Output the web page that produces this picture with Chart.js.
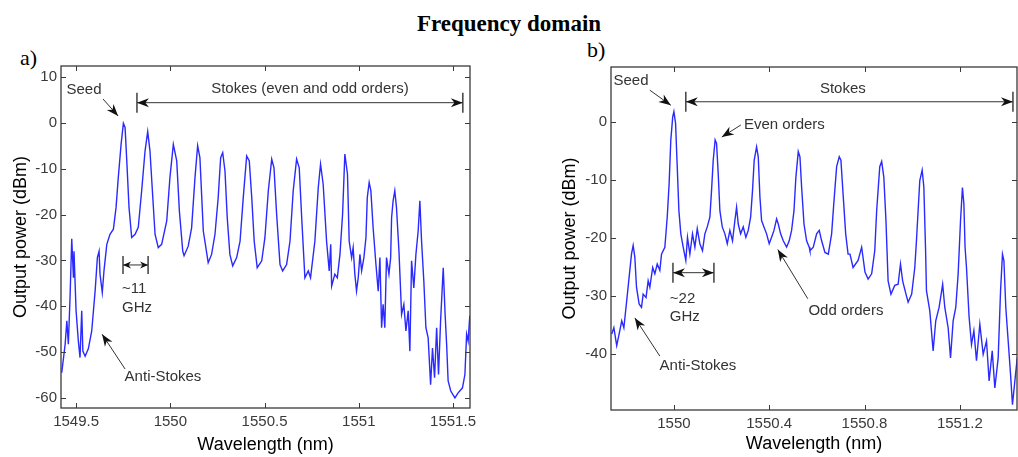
<!DOCTYPE html>
<html>
<head>
<meta charset="utf-8">
<script src="https://cdn.jsdelivr.net/npm/chart.js@4.4.1/dist/chart.umd.min.js"></script>
<style>
  body { margin: 0; width: 1018px; height: 457px; background: #fff; position: relative; overflow: hidden; }
  #title { position: absolute; left: 0; top: 11px; width: 1018px; text-align: center; font: bold 23px "Liberation Serif", serif; color: #000; }
  .lbl { position: absolute; font: 22px "Liberation Serif", serif; color: #000; }
  .panel { position: absolute; top: 0; height: 457px; }
</style>
</head>
<body>
<div id="title">Frequency domain</div>
<div class="lbl" style="left:20px;top:45px">a)</div>
<div class="lbl" style="left:587px;top:37px">b)</div>
<div class="panel" style="left:0;width:490px"><canvas id="chartA"></canvas></div>
<div class="panel" style="left:530px;width:488px"><canvas id="chartB"></canvas></div>

<script>
// panel a) spectrum
const aWl = [1549.424,1549.442,1549.451,1549.459,1549.468,1549.477,1549.486,1549.489,1549.500,1549.512,
  1549.521,1549.530,1549.536,1549.548,1549.565,1549.583,1549.601,1549.613,1549.622,1549.627,
  1549.639,1549.648,1549.663,1549.680,1549.698,1549.712,1549.724,1549.739,1549.751,1549.760,
  1549.769,1549.781,1549.795,1549.813,1549.830,1549.848,1549.866,1549.880,1549.892,1549.907,
  1549.919,1549.936,1549.954,1549.981,1549.998,1550.016,1550.034,1550.048,1550.066,1550.073,
  1550.095,1550.113,1550.131,1550.145,1550.157,1550.175,1550.201,1550.219,1550.237,1550.254,
  1550.267,1550.278,1550.290,1550.302,1550.316,1550.331,1550.352,1550.370,1550.387,1550.405,
  1550.419,1550.432,1550.445,1550.461,1550.485,1550.502,1550.520,1550.538,1550.550,1550.564,
  1550.582,1550.596,1550.617,1550.635,1550.652,1550.670,1550.684,1550.697,1550.714,1550.732,
  1550.744,1550.767,1550.785,1550.797,1550.811,1550.829,1550.843,1550.851,1550.856,1550.873,
  1550.886,1550.900,1550.914,1550.926,1550.940,1550.949,1550.962,1550.970,1550.979,1550.988,
  1550.997,1551.006,1551.015,1551.027,1551.038,1551.045,1551.055,1551.064,1551.076,1551.091,
  1551.103,1551.112,1551.121,1551.129,1551.138,1551.147,1551.160,1551.169,1551.174,1551.182,
  1551.191,1551.200,1551.213,1551.227,1551.239,1551.250,1551.262,1551.271,1551.280,1551.292,
  1551.303,1551.315,1551.324,1551.333,1551.345,1551.356,1551.368,1551.381,1551.391,1551.402,
  1551.413,1551.423,1551.434,1551.448,1551.458,1551.466,1551.474,1551.488,1551.510,1551.527,
  1551.550,1551.563,1551.572,1551.580,1551.589];
const aDbm = [-54.5,-48.3,-43.2,-48.3,-38.1,-25.3,-33.8,-28,-41,-47.6,
  -51.2,-41,-49.8,-50.9,-49.3,-45.4,-36.7,-29.4,-28,-33,
  -37,-32.3,-26.5,-24.3,-23.2,-18.5,-11.9,-4.6,-0.1,-1,
  -8.3,-18.5,-25,-24.3,-22.8,-14.8,-6.1,-1.9,-6.1,-16.3,
  -24.3,-27.2,-26.5,-21.4,-11.9,-4.7,-8.3,-19.2,-28,-29,
  -26.9,-22.9,-11.9,-5,-7.6,-23.6,-30.5,-28.7,-24.3,-16.3,
  -7.6,-6.5,-10.5,-20.7,-28.7,-31.2,-29.4,-25.8,-16.3,-7.2,
  -8.3,-16.3,-25.8,-31.6,-30.1,-25,-14.8,-7.9,-9.8,-19.9,
  -30.9,-32.3,-30.9,-25.8,-14.8,-7.9,-9.8,-20.7,-33.8,-32.3,
  -33.8,-25.8,-14.1,-9,-13.4,-25.8,-32.3,-26.5,-35.6,-33,
  -33.8,-28.7,-19.9,-6.8,-11.2,-25.8,-29.4,-27.2,-33,-36.7,
  -33.8,-28.7,-32.3,-29.4,-25,-16.3,-13,-14.8,-22.9,-30.9,
  -36.7,-29.4,-44.7,-39.6,-44.7,-29.4,-33,-29.4,-20.7,-17,
  -14.8,-18.5,-27.9,-41.8,-39.6,-45.4,-41,-49.8,-30.1,-36,
  -28.7,-23.6,-17,-25.8,-34.5,-44.7,-46.9,-57.1,-49.1,-55.6,
  -44.7,-54.9,-43.2,-31.6,-41.8,-48.3,-56.3,-58.5,-60,-58.9,
  -57.8,-54.9,-46.1,-47.6,-42.1];
const aXTicks = [1549.5, 1550, 1550.5, 1551, 1551.5];
const aYTicks = [-60, -50, -40, -30, -20, -10, 0, 10];

// panel b) spectrum
const bWl = [1549.739,1549.748,1549.760,1549.770,1549.781,1549.790,1549.802,1549.812,1549.822,1549.829,
  1549.836,1549.843,1549.854,1549.864,1549.871,1549.883,1549.892,1549.899,1549.911,1549.920,
  1549.930,1549.941,1549.948,1549.962,1549.972,1549.980,1549.987,1549.995,1550.000,1550.007,
  1550.014,1550.021,1550.029,1550.039,1550.050,1550.057,1550.067,1550.078,1550.088,1550.098,
  1550.109,1550.120,1550.130,1550.140,1550.151,1550.158,1550.165,1550.173,1550.179,1550.186,
  1550.193,1550.203,1550.214,1550.224,1550.235,1550.246,1550.256,1550.263,1550.270,1550.280,
  1550.291,1550.302,1550.312,1550.322,1550.330,1550.337,1550.347,1550.354,1550.361,1550.368,
  1550.378,1550.389,1550.400,1550.410,1550.420,1550.431,1550.438,1550.448,1550.459,1550.473,
  1550.484,1550.494,1550.504,1550.512,1550.522,1550.529,1550.536,1550.546,1550.557,1550.568,
  1550.571,1550.585,1550.599,1550.610,1550.620,1550.634,1550.648,1550.662,1550.671,1550.683,
  1550.694,1550.701,1550.710,1550.721,1550.731,1550.739,1550.752,1550.773,1550.788,1550.802,
  1550.815,1550.830,1550.843,1550.851,1550.864,1550.872,1550.881,1550.890,1550.899,1550.911,
  1550.927,1550.941,1550.951,1550.960,1550.974,1550.983,1550.998,1551.011,1551.018,1551.032,
  1551.042,1551.049,1551.056,1551.060,1551.074,1551.088,1551.099,1551.113,1551.128,1551.137,
  1551.151,1551.161,1551.172,1551.183,1551.193,1551.203,1551.211,1551.217,1551.222,1551.228,
  1551.239,1551.249,1551.259,1551.270,1551.284,1551.298,1551.312,1551.323,1551.336,1551.347,
  1551.361,1551.371,1551.379,1551.385,1551.393,1551.403,1551.413,1551.421,1551.431,1551.441];
const bDbm = [-36.6,-35.5,-38.6,-36.6,-34.3,-35.5,-30.8,-26.8,-22.8,-21.3,
  -23.3,-28.5,-31.4,-32,-29.7,-30.3,-27.4,-28.5,-25.1,-26.2,
  -24.5,-25.6,-22.8,-21.6,-16.4,-10.6,-3.1,0.9,1.8,-0.2,
  -7.7,-15.3,-19.3,-21.6,-23.9,-19.9,-22.8,-19.3,-21.6,-18.4,
  -21,-22.2,-19.3,-18.1,-16.4,-11.8,-6.6,-3.1,-3.7,-8.9,
  -15.3,-18.1,-19.3,-21,-18.7,-20.5,-17,-14.7,-17.6,-19.3,
  -18.1,-19.9,-18.7,-16.4,-11.8,-6.6,-4.3,-6,-12.9,-17,
  -18.1,-19.3,-21,-19.9,-18.7,-16.7,-17.6,-19.3,-20.5,-21.6,
  -20.5,-18.7,-15.3,-9.5,-5.1,-6,-11.2,-17.6,-20.5,-21.6,
  -22.2,-21.6,-19.3,-18.7,-20.5,-22.5,-22.8,-19.3,-14.1,-7.7,
  -6,-6.6,-12.4,-19.3,-22.8,-22.8,-25.1,-23.9,-21.6,-25.9,
  -27.1,-26.2,-22.2,-15.3,-7.7,-6.8,-9.5,-17,-27.4,-29.7,
  -28.2,-28,-24.5,-27.4,-29.7,-31.1,-29.7,-25.1,-20.5,-10.1,
  -8.3,-11.2,-21.6,-29.1,-32.6,-39.5,-34.3,-32,-28,-32,
  -35.5,-40.7,-34.3,-32,-26.2,-17,-11.3,-14.1,-21.6,-25.1,
  -33.7,-38.4,-36,-41.2,-34.9,-40.1,-37.8,-44.7,-39.5,-45.9,
  -40.7,-29.1,-22.8,-23.9,-32,-37.8,-43.6,-48.8,-44.7,-40.7];
const bXTicks = [1550, 1550.4, 1550.8, 1551.2];
const bYTicks = [-40, -30, -20, -10, 0];

// annotations, in data units
const aNotes = [
  { text: 'Seed', x: 1549.542, y: 7.2 },
  { text: 'Stokes (even and odd orders)', x: 1550.741, y: 7.4 },
  { text: '~11', x: 1549.744, y: -36.2, align: 'left' },
  { text: 'GHz', x: 1549.744, y: -40.4, align: 'left' },
  { text: 'Anti-Stokes', x: 1549.961, y: -55.5 }
];
const aArrows = [
  { from: [1549.643, 5.2], to: [1549.723, 1.5] },
  { from: [1549.823, 4.4], to: [1551.552, 4.4], both: true },
  { from: [1549.749, -31.0], to: [1549.882, -31.0], both: true, small: true },
  { from: [1549.760, -53.7], to: [1549.638, -46.1] }
];
const bNotes = [
  { text: 'Seed', x: 1549.820, y: 7.1 },
  { text: 'Stokes', x: 1550.709, y: 5.7 },
  { text: 'Even orders', x: 1550.294, y: -0.5, align: 'left' },
  { text: '~22', x: 1549.983, y: -30.5, align: 'left' },
  { text: 'GHz', x: 1549.983, y: -33.6, align: 'left' },
  { text: 'Anti-Stokes', x: 1550.101, y: -42.1 },
  { text: 'Odd orders', x: 1550.722, y: -32.6 }
];
const bArrows = [
  { from: [1549.899, 5.5], to: [1549.987, 2.9] },
  { from: [1550.050, 3.5], to: [1551.423, 3.5], both: true },
  { from: [1550.281, -0.5], to: [1550.201, -2.6] },
  { from: [1549.996, -26.0], to: [1550.168, -26.0], both: true },
  { from: [1549.941, -40.4], to: [1549.836, -33.8] },
  { from: [1550.562, -30.5], to: [1550.436, -22.0] }
];

Chart.defaults.font.family = '"Liberation Sans", Arial, sans-serif';

function arrowHead(ctx, x0, y0, x1, y1, len, w) {
  const ang = Math.atan2(y1 - y0, x1 - x0);
  ctx.save();
  ctx.translate(x1, y1);
  ctx.rotate(ang);
  ctx.beginPath();
  ctx.moveTo(0, 0);
  ctx.lineTo(-len, -w / 2);
  ctx.lineTo(-len * 0.7, 0);
  ctx.lineTo(-len, w / 2);
  ctx.closePath();
  ctx.fill();
  ctx.restore();
}

// frame, inward ticks (matlab look), arrows and labels
const marks = {
  id: 'marks',
  afterDraw(chart, args, opts) {
    const { ctx, chartArea: a, scales: { x, y } } = chart;
    ctx.save();
    ctx.strokeStyle = '#3a3a3a';
    ctx.lineWidth = 1.3;
    ctx.strokeRect(a.left, a.top, a.right - a.left, a.bottom - a.top);
    ctx.lineWidth = 1;
    ctx.beginPath();
    x.ticks.forEach(t => {
      const p = Math.round(x.getPixelForValue(t.value)) + 0.5;
      ctx.moveTo(p, a.bottom); ctx.lineTo(p, a.bottom - 5);
      ctx.moveTo(p, a.top); ctx.lineTo(p, a.top + 5);
    });
    y.ticks.forEach(t => {
      const p = Math.round(y.getPixelForValue(t.value)) + 0.5;
      ctx.moveTo(a.left, p); ctx.lineTo(a.left + 5, p);
      ctx.moveTo(a.right, p); ctx.lineTo(a.right - 5, p);
    });
    ctx.stroke();

    ctx.strokeStyle = '#333';
    ctx.fillStyle = '#111';
    ctx.lineWidth = 1;
    (opts.arrows || []).forEach(ar => {
      const x0 = x.getPixelForValue(ar.from[0]), y0 = y.getPixelForValue(ar.from[1]);
      const x1 = x.getPixelForValue(ar.to[0]), y1 = y.getPixelForValue(ar.to[1]);
      ctx.beginPath();
      ctx.moveTo(x0, y0); ctx.lineTo(x1, y1);
      ctx.stroke();
      const len = ar.small ? 8 : 12, w = ar.small ? 7 : 9;
      arrowHead(ctx, x0, y0, x1, y1, len, w);
      if (ar.both) {
        arrowHead(ctx, x1, y1, x0, y0, len, w);
        const h = ar.small ? 9 : 10;
        ctx.lineWidth = 1.4;
        ctx.beginPath();
        ctx.moveTo(x0, y0 - h); ctx.lineTo(x0, y0 + h);
        ctx.moveTo(x1, y1 - h); ctx.lineTo(x1, y1 + h);
        ctx.stroke();
        ctx.lineWidth = 1;
      }
    });

    ctx.font = '15px "Liberation Sans", Arial, sans-serif';
    ctx.fillStyle = '#333';
    ctx.textBaseline = 'middle';
    (opts.notes || []).forEach(n => {
      ctx.textAlign = n.align || 'center';
      ctx.fillText(n.text, x.getPixelForValue(n.x), y.getPixelForValue(n.y));
    });
    ctx.restore();
  }
};

function makeChart(id, wl, dbm, o) {
  return new Chart(document.getElementById(id), {
    type: 'line',
    data: {
      datasets: [{
        data: wl.map((v, i) => ({ x: v, y: dbm[i] })),
        borderColor: '#2a2aff',
        borderWidth: 1.4,
        pointRadius: 0,
        tension: 0
      }]
    },
    options: {
      responsive: true,
      maintainAspectRatio: false,
      animation: false,
      layout: { padding: o.pad },
      plugins: {
        legend: { display: false },
        tooltip: { enabled: false },
        marks: { notes: o.notes, arrows: o.arrows }
      },
      scales: {
        x: {
          type: 'linear',
          min: o.xMin, max: o.xMax,
          afterBuildTicks: s => { s.ticks = o.xTicks.map(v => ({ value: v })); },
          afterFit: s => { s.height = o.xH; },
          grid: { display: false, drawTicks: false },
          border: { display: false },
          ticks: { padding: 5, color: '#3a3a3a', font: { size: 15 }, maxRotation: 0, autoSkip: false, callback: v => String(v) },
          title: { display: true, text: 'Wavelength (nm)', color: '#000', font: { size: 18 }, padding: { top: 0, bottom: o.xtPad } }
        },
        y: {
          min: o.yMin, max: o.yMax,
          afterBuildTicks: s => { s.ticks = o.yTicks.map(v => ({ value: v })); },
          afterFit: s => { s.width = o.yW; },
          grid: { display: false, drawTicks: false },
          border: { display: false },
          ticks: { padding: 4, color: '#3a3a3a', font: { size: 15 }, autoSkip: false, callback: v => String(v) },
          title: { display: true, text: 'Output power (dBm)', color: '#000', font: { size: 18 }, padding: { top: o.ytPad, bottom: 0 } }
        }
      }
    },
    plugins: [marks]
  });
}

makeChart('chartA', aWl, aDbm, {
  pad: { left: 0, top: 66, right: 20, bottom: 0 },
  xMin: 1549.42, xMax: 1551.59, yMin: -62.2, yMax: 12.4,
  xTicks: aXTicks, yTicks: aYTicks, xH: 49, yW: 61, xtPad: 1, ytPad: 10,
  notes: aNotes, arrows: aArrows
});
makeChart('chartB', bWl, bDbm, {
  pad: { left: 0, top: 67, right: 1, bottom: 0 },
  xMin: 1549.736, xMax: 1551.44, yMin: -49.7, yMax: 9.5,
  xTicks: bXTicks, yTicks: bYTicks, xH: 47, yW: 81, xtPad: 2, ytPad: 29,
  notes: bNotes, arrows: bArrows
});
</script>
</body>
</html>
